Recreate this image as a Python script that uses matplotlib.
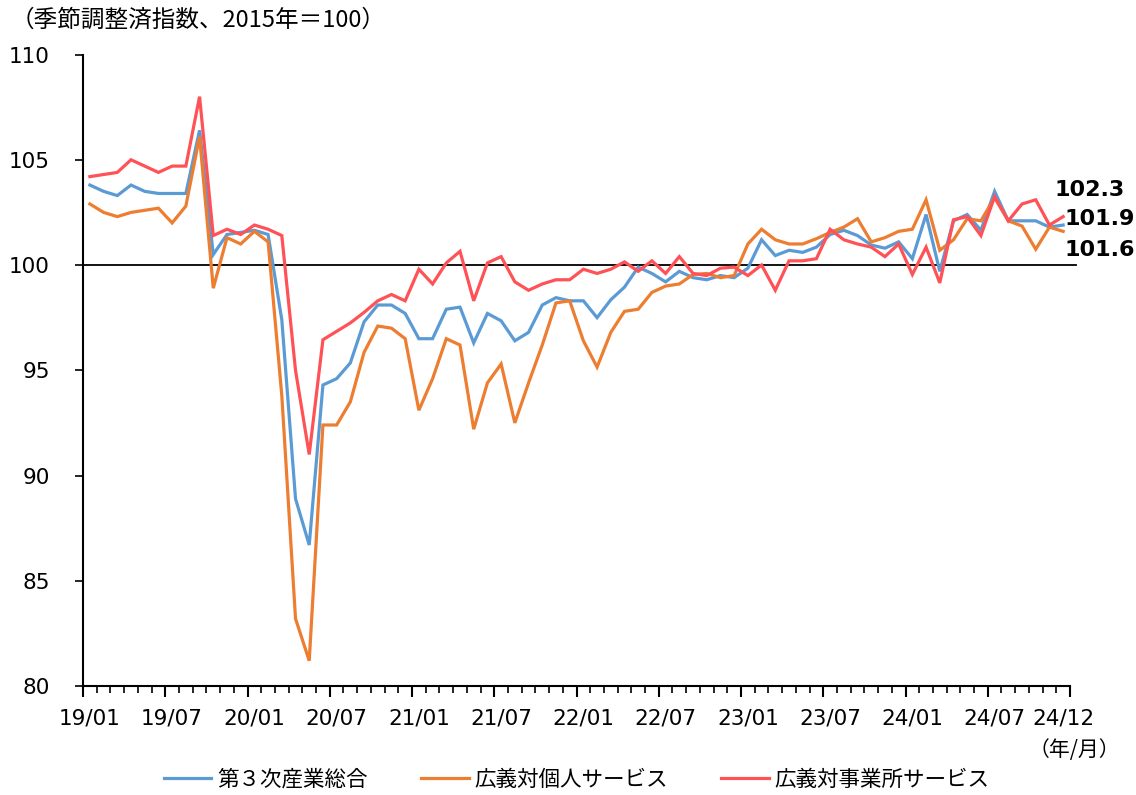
import matplotlib.pyplot as plt
import matplotlib.transforms as mtransforms
import numpy as np

plt.rcParams['font.family'] = ['DejaVu Sans', 'Noto Sans CJK JP']

# 2019/01 - 2024/12 (月次)
months = [f"{y % 100:02d}/{m:02d}" for y in range(2019, 2025) for m in range(1, 13)]

total = [103.8, 103.5, 103.3, 103.8, 103.5, 103.4, 103.4, 103.4, 106.4, 100.5, 101.45, 101.55,
         101.65, 101.45, 97.4, 88.9, 86.7, 94.3, 94.6, 95.35, 97.3, 98.1, 98.1, 97.7,
         96.5, 96.5, 97.9, 98.0, 96.3, 97.7, 97.35, 96.4, 96.8, 98.1, 98.45, 98.3,
         98.3, 97.5, 98.35, 98.95, 99.9, 99.6, 99.2, 99.7, 99.4, 99.3, 99.5, 99.4,
         99.85, 101.2, 100.45, 100.7, 100.6, 100.85, 101.45, 101.65, 101.4, 100.95, 100.8, 101.1,
         100.3, 102.4, 99.7, 102.1, 102.4, 101.65, 103.5, 102.1, 102.1, 102.1, 101.8, 101.9]

personal = [102.9, 102.5, 102.3, 102.5, 102.6, 102.7, 102.0, 102.8, 106.1, 98.9, 101.3, 101.0,
            101.6, 101.1, 93.8, 83.2, 81.2, 92.4, 92.4, 93.5, 95.85, 97.1, 97.0, 96.5,
            93.1, 94.6, 96.5, 96.2, 92.2, 94.4, 95.3, 92.5, 94.4, 96.2, 98.2, 98.3,
            96.4, 95.15, 96.8, 97.8, 97.9, 98.7, 99.0, 99.1, 99.55, 99.6, 99.4, 99.5,
            101.0, 101.7, 101.2, 101.0, 101.0, 101.25, 101.55, 101.8, 102.2, 101.1, 101.3, 101.6,
            101.7, 103.1, 100.7, 101.2, 102.2, 102.1, 103.2, 102.1, 101.85, 100.75, 101.8, 101.6]

business = [104.2, 104.3, 104.4, 105.0, 104.7, 104.4, 104.7, 104.7, 108.0, 101.4, 101.7, 101.45,
            101.9, 101.7, 101.4, 95.0, 91.0, 96.45, 96.85, 97.25, 97.75, 98.3, 98.6, 98.3,
            99.8, 99.1, 100.1, 100.65, 98.3, 100.1, 100.4, 99.2, 98.8, 99.1, 99.3, 99.3,
            99.8, 99.6, 99.8, 100.15, 99.7, 100.2, 99.6, 100.4, 99.6, 99.5, 99.85, 99.9,
            99.5, 100.0, 98.8, 100.2, 100.2, 100.3, 101.7, 101.2, 101.0, 100.85, 100.4, 101.0,
            99.55, 100.85, 99.15, 102.15, 102.3, 101.4, 103.25, 102.1, 102.9, 103.1, 101.9, 102.3]

names = ['第３次産業総合', '広義対個人サービス', '広義対事業所サービス']
colors = ['#5B9BD5', '#ED7D31', '#FF5257']
label_idx = list(range(0, 72, 6)) + [71]
cjk = ['Noto Sans CJK JP', 'DejaVu Sans']

fig = plt.figure(figsize=(11.36, 7.95), dpi=100)
ax = fig.add_axes([0.0731, 0.1371, 0.8688, 0.7943])

x = np.arange(len(months)) + 0.5
for series, name, c in zip([total, personal, business], names, colors):
    ax.plot(x, series, color=c, lw=2.3, label=name, solid_joinstyle='miter')

ax.axhline(100, xmin=0, xmax=1.006, color='black', lw=1.3, clip_on=False, zorder=1)

ax.set_xlim(0, len(months))
ax.set_ylim(80, 110)
ax.set_yticks(np.arange(80, 111, 5))
ax.tick_params(axis='y', labelsize=15.5, length=6, width=1.2, pad=18)
ax.set_xticks(np.arange(0, len(months) + 1, 6))
ax.set_xticks(np.arange(0, len(months) + 1), minor=True)
ax.tick_params(axis='x', which='major', length=8, width=1.5, labelbottom=False)
ax.tick_params(axis='x', which='minor', length=5, width=1.2)
for s in ['top', 'right']:
    ax.spines[s].set_visible(False)
for s in ['left', 'bottom']:
    ax.spines[s].set_linewidth(1.5)

trans = mtransforms.blended_transform_factory(ax.transData, ax.transAxes)
for i in label_idx:
    ax.text(x[i], -0.052, months[i], transform=trans, ha='center', va='center', fontsize=15.5)

fig.text(0.009, 0.974, '（季節調整済指数、2015年＝100）', fontsize=17, family=cjk, va='center')
fig.text(0.986, 0.056, '（年/月）', fontsize=15, family=cjk, ha='right', va='center')

# 最終月の値
ax.text(0.990, 0.761, f'{business[-1]:.1f}', transform=fig.transFigure, ha='right', va='center',
        fontsize=16, fontweight='bold')
ax.text(0.999, 0.7245, f'{total[-1]:.1f}', transform=fig.transFigure, ha='right', va='center',
        fontsize=16, fontweight='bold')
ax.text(0.999, 0.6855, f'{personal[-1]:.1f}', transform=fig.transFigure, ha='right', va='center',
        fontsize=16, fontweight='bold')

fig.legend(loc='center', bbox_to_anchor=(0.5075, 0.019), ncol=3, frameon=False,
           prop={'family': cjk, 'size': 15.5},
           handlelength=2.2, handletextpad=0.25, columnspacing=2.5)

fig.savefig('out.png', dpi=100)
